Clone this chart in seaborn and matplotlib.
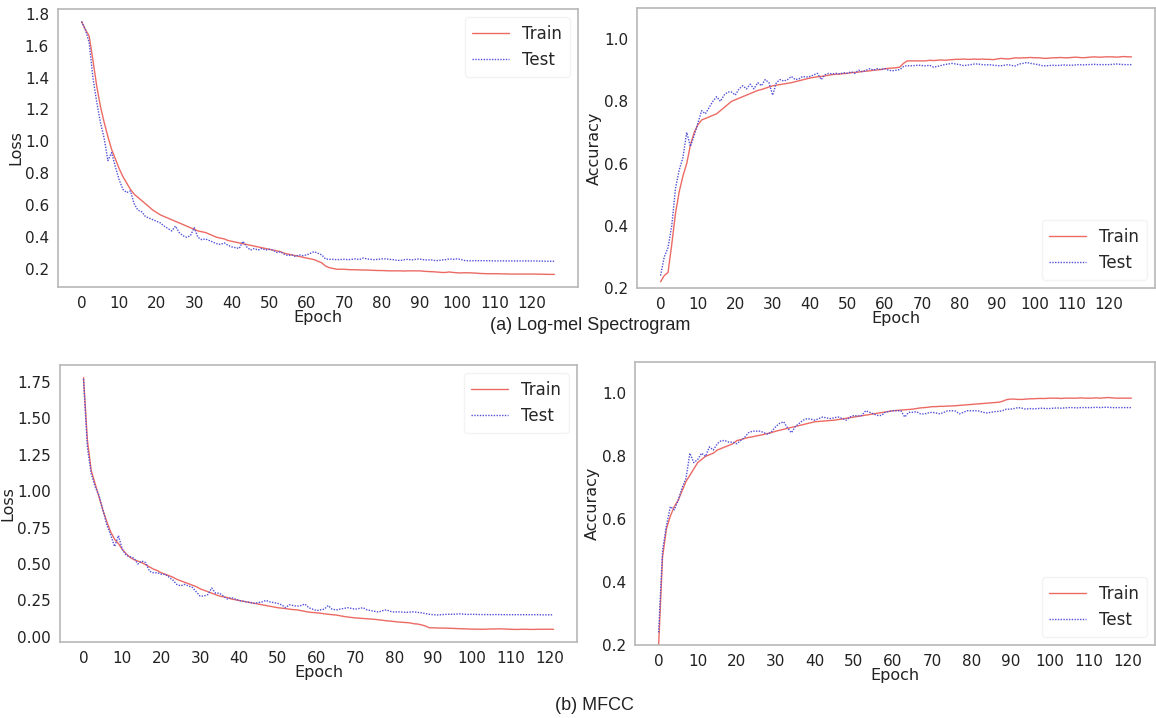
import numpy as np
import pandas as pd
import matplotlib
matplotlib.use("Agg")
import matplotlib.pyplot as plt
import seaborn as sns

# (a) Log-mel spectrogram, epochs 0..126
mel_loss_train = [
    1.75, 1.70, 1.66, 1.51, 1.35, 1.22, 1.12, 1.03, 0.95, 0.89,
    0.83, 0.78, 0.74, 0.70, 0.67, 0.65, 0.63, 0.61, 0.59, 0.57,
    0.555, 0.54, 0.53, 0.52, 0.51, 0.50, 0.49, 0.48, 0.47, 0.46,
    0.45, 0.44, 0.435, 0.43, 0.42, 0.41, 0.40, 0.395, 0.39, 0.38,
    0.375, 0.37, 0.365, 0.36, 0.355, 0.35, 0.345, 0.34, 0.335, 0.33,
    0.325, 0.32, 0.315, 0.31, 0.30, 0.295, 0.29, 0.285, 0.28, 0.275,
    0.27, 0.265, 0.26, 0.25, 0.24, 0.22, 0.21, 0.205, 0.20, 0.20,
    0.20, 0.198, 0.197, 0.197, 0.196, 0.195, 0.195, 0.194, 0.193, 0.192,
    0.192, 0.191, 0.19, 0.19, 0.19, 0.19, 0.189, 0.19, 0.19, 0.19,
    0.19, 0.188, 0.186, 0.185, 0.184, 0.182, 0.18, 0.18, 0.183, 0.18,
    0.178, 0.177, 0.178, 0.178, 0.177, 0.176, 0.174, 0.173, 0.172, 0.172,
    0.172, 0.172, 0.171, 0.171, 0.17, 0.17, 0.17, 0.17, 0.17, 0.17,
    0.17, 0.17, 0.169, 0.169, 0.168, 0.168, 0.168,
]
mel_loss_test = [
    1.75, 1.70, 1.62, 1.40, 1.25, 1.12, 1.02, 0.88, 0.93, 0.84,
    0.76, 0.70, 0.68, 0.69, 0.61, 0.57, 0.56, 0.53, 0.52, 0.51,
    0.50, 0.49, 0.47, 0.455, 0.44, 0.47, 0.43, 0.41, 0.40, 0.41,
    0.46, 0.40, 0.385, 0.39, 0.38, 0.37, 0.36, 0.355, 0.365, 0.35,
    0.34, 0.335, 0.33, 0.375, 0.34, 0.32, 0.33, 0.32, 0.33, 0.32,
    0.325, 0.32, 0.305, 0.31, 0.295, 0.285, 0.29, 0.28, 0.29, 0.285,
    0.29, 0.30, 0.31, 0.30, 0.29, 0.265, 0.262, 0.262, 0.26, 0.261,
    0.262, 0.26, 0.262, 0.265, 0.26, 0.27, 0.265, 0.262, 0.26, 0.262,
    0.265, 0.265, 0.262, 0.26, 0.256, 0.255, 0.26, 0.262, 0.258, 0.262,
    0.265, 0.26, 0.258, 0.26, 0.255, 0.254, 0.258, 0.26, 0.265, 0.262,
    0.265, 0.262, 0.255, 0.253, 0.253, 0.254, 0.253, 0.254, 0.253, 0.253,
    0.252, 0.252, 0.253, 0.252, 0.252, 0.252, 0.252, 0.252, 0.252, 0.252,
    0.252, 0.252, 0.251, 0.251, 0.25, 0.25, 0.25,
]
mel_acc_train = [
    0.22, 0.24, 0.25, 0.34, 0.44, 0.51, 0.56, 0.60, 0.66, 0.70,
    0.725, 0.74, 0.745, 0.75, 0.755, 0.76, 0.77, 0.78, 0.79, 0.80,
    0.805, 0.81, 0.815, 0.82, 0.825, 0.83, 0.835, 0.838, 0.842, 0.846,
    0.85, 0.852, 0.854, 0.856, 0.858, 0.86, 0.863, 0.866, 0.869, 0.872,
    0.875, 0.877, 0.879, 0.88, 0.882, 0.884, 0.886, 0.887, 0.888, 0.889,
    0.89, 0.892, 0.893, 0.894, 0.896, 0.897, 0.898, 0.90, 0.901, 0.902,
    0.905, 0.906, 0.907, 0.908, 0.91, 0.922, 0.93, 0.93, 0.93, 0.93,
    0.93, 0.93, 0.932, 0.931, 0.932, 0.933, 0.932, 0.933, 0.934, 0.935,
    0.935, 0.936, 0.935, 0.935, 0.936, 0.935, 0.936, 0.935, 0.935, 0.934,
    0.936, 0.938, 0.937, 0.936, 0.938, 0.94, 0.939, 0.94, 0.94, 0.941,
    0.94, 0.94, 0.939, 0.938, 0.939, 0.94, 0.94, 0.941, 0.94, 0.94,
    0.941, 0.942, 0.941, 0.94, 0.941, 0.942, 0.943, 0.942, 0.942, 0.943,
    0.943, 0.943, 0.942, 0.943, 0.944, 0.943, 0.943,
]
mel_acc_test = [
    0.24, 0.30, 0.33, 0.40, 0.52, 0.58, 0.62, 0.70, 0.655, 0.69,
    0.73, 0.77, 0.76, 0.78, 0.80, 0.815, 0.80, 0.82, 0.83, 0.83,
    0.82, 0.84, 0.85, 0.84, 0.855, 0.84, 0.86, 0.85, 0.87, 0.86,
    0.82, 0.86, 0.87, 0.865, 0.87, 0.88, 0.87, 0.872, 0.88, 0.878,
    0.88, 0.885, 0.89, 0.87, 0.885, 0.89, 0.888, 0.89, 0.888, 0.892,
    0.89, 0.895, 0.89, 0.90, 0.895, 0.90, 0.905, 0.90, 0.905, 0.902,
    0.905, 0.90, 0.898, 0.90, 0.902, 0.912, 0.915, 0.914, 0.915, 0.916,
    0.915, 0.914, 0.916, 0.91, 0.912, 0.915, 0.918, 0.92, 0.922, 0.92,
    0.918, 0.915, 0.916, 0.918, 0.92, 0.92, 0.918, 0.917, 0.918, 0.916,
    0.915, 0.914, 0.916, 0.918, 0.915, 0.914, 0.92, 0.922, 0.925, 0.922,
    0.92, 0.918, 0.915, 0.914, 0.915, 0.916, 0.915, 0.916, 0.917, 0.916,
    0.916, 0.917, 0.918, 0.917, 0.918, 0.918, 0.919, 0.918, 0.918, 0.918,
    0.918, 0.919, 0.92, 0.919, 0.918, 0.918, 0.918,
]

# (b) MFCC, epochs 0..121
mfcc_loss_train = [
    1.78, 1.35, 1.14, 1.05, 0.96, 0.87, 0.79, 0.72, 0.67, 0.64,
    0.60, 0.57, 0.545, 0.53, 0.52, 0.51, 0.495, 0.48, 0.465, 0.455,
    0.44, 0.43, 0.42, 0.41, 0.395, 0.385, 0.375, 0.365, 0.355, 0.345,
    0.33, 0.32, 0.31, 0.30, 0.29, 0.28, 0.275, 0.27, 0.26, 0.255,
    0.25, 0.245, 0.24, 0.235, 0.23, 0.225, 0.22, 0.215, 0.21, 0.205,
    0.20, 0.197, 0.194, 0.19, 0.187, 0.185, 0.18, 0.175, 0.17, 0.167,
    0.165, 0.162, 0.158, 0.155, 0.152, 0.15, 0.145, 0.14, 0.136, 0.133,
    0.13, 0.128, 0.126, 0.124, 0.122, 0.12, 0.117, 0.114, 0.11, 0.108,
    0.105, 0.102, 0.10, 0.098, 0.096, 0.09, 0.088, 0.082, 0.075, 0.062,
    0.062, 0.061, 0.06, 0.06, 0.059, 0.058, 0.057, 0.056, 0.055, 0.054,
    0.053, 0.053, 0.052, 0.052, 0.053, 0.054, 0.054, 0.055, 0.054, 0.053,
    0.052, 0.051, 0.051, 0.052, 0.052, 0.051, 0.051, 0.052, 0.052, 0.052,
    0.052, 0.052,
]
mfcc_loss_test = [
    1.77, 1.30, 1.12, 1.03, 0.97, 0.87, 0.77, 0.70, 0.62, 0.695,
    0.60, 0.56, 0.55, 0.54, 0.50, 0.52, 0.51, 0.45, 0.44, 0.44,
    0.43, 0.43, 0.41, 0.39, 0.36, 0.35, 0.36, 0.35, 0.34, 0.31,
    0.28, 0.28, 0.29, 0.335, 0.30, 0.30, 0.28, 0.26, 0.27, 0.26,
    0.25, 0.245, 0.24, 0.235, 0.23, 0.235, 0.24, 0.25, 0.24, 0.235,
    0.23, 0.22, 0.20, 0.22, 0.215, 0.21, 0.215, 0.225, 0.20, 0.19,
    0.18, 0.185, 0.19, 0.215, 0.19, 0.185, 0.19, 0.195, 0.20, 0.195,
    0.19, 0.195, 0.20, 0.185, 0.18, 0.175, 0.17, 0.18, 0.185, 0.175,
    0.17, 0.172, 0.17, 0.168, 0.17, 0.172, 0.168, 0.165, 0.16, 0.155,
    0.152, 0.15, 0.152, 0.154, 0.155, 0.155, 0.156, 0.158, 0.155, 0.154,
    0.155, 0.154, 0.153, 0.153, 0.153, 0.152, 0.153, 0.153, 0.152, 0.152,
    0.152, 0.152, 0.152, 0.152, 0.152, 0.152, 0.152, 0.152, 0.151, 0.151,
    0.151, 0.151,
]
mfcc_acc_train = [
    0.20, 0.48, 0.57, 0.61, 0.64, 0.66, 0.69, 0.72, 0.74, 0.76,
    0.78, 0.79, 0.80, 0.805, 0.81, 0.82, 0.825, 0.83, 0.835, 0.84,
    0.85, 0.853, 0.857, 0.86, 0.862, 0.865, 0.867, 0.87, 0.873, 0.876,
    0.88, 0.883, 0.886, 0.889, 0.892, 0.895, 0.898, 0.901, 0.904, 0.907,
    0.91, 0.911, 0.912, 0.913, 0.914, 0.915, 0.917, 0.919, 0.921, 0.923,
    0.925, 0.927, 0.929, 0.931, 0.933, 0.935, 0.937, 0.939, 0.941, 0.943,
    0.945, 0.946, 0.947, 0.948, 0.949, 0.95, 0.952, 0.954, 0.955, 0.956,
    0.958, 0.958, 0.959, 0.959, 0.96, 0.96, 0.961, 0.962, 0.963, 0.964,
    0.965, 0.966, 0.967, 0.968, 0.969, 0.97, 0.971, 0.972, 0.975, 0.98,
    0.982, 0.982, 0.981, 0.981, 0.982, 0.983, 0.983, 0.984, 0.984, 0.984,
    0.985, 0.985, 0.985, 0.984, 0.985, 0.985, 0.985, 0.985, 0.986, 0.985,
    0.985, 0.985, 0.986, 0.985, 0.986, 0.987, 0.986, 0.985, 0.985, 0.985,
    0.985, 0.985,
]
mfcc_acc_test = [
    0.24, 0.50, 0.58, 0.64, 0.63, 0.66, 0.70, 0.73, 0.81, 0.78,
    0.79, 0.81, 0.80, 0.83, 0.82, 0.84, 0.85, 0.85, 0.845, 0.845,
    0.84, 0.85, 0.86, 0.875, 0.88, 0.88, 0.88, 0.875, 0.87, 0.88,
    0.895, 0.905, 0.91, 0.89, 0.875, 0.895, 0.905, 0.915, 0.92, 0.918,
    0.915, 0.92, 0.925, 0.922, 0.92, 0.923, 0.925, 0.92, 0.915, 0.925,
    0.93, 0.928, 0.93, 0.945, 0.94, 0.935, 0.93, 0.93, 0.94, 0.943,
    0.945, 0.945, 0.945, 0.925, 0.94, 0.94, 0.942, 0.935, 0.935, 0.938,
    0.94, 0.938, 0.935, 0.94, 0.945, 0.945, 0.944, 0.935, 0.94, 0.945,
    0.945, 0.945, 0.944, 0.94, 0.938, 0.94, 0.942, 0.943, 0.945, 0.95,
    0.95, 0.952, 0.955, 0.953, 0.95, 0.952, 0.951, 0.952, 0.953, 0.952,
    0.952, 0.953, 0.954, 0.953, 0.954, 0.955, 0.955, 0.954, 0.955, 0.955,
    0.955, 0.955, 0.956, 0.955, 0.956, 0.956, 0.955, 0.955, 0.955, 0.955,
    0.955, 0.955,
]

x_ticks = list(range(0, 121, 10))
train_color = "#ec6a64"
test_color = "#5050d8"

sns.set_style("white")
plt.rcParams["font.family"] = ["DejaVu Sans"]
plt.rcParams["axes.edgecolor"] = "#b8b8b8"
plt.rcParams["xtick.color"] = "#b8b8b8"
plt.rcParams["ytick.color"] = "#b8b8b8"
plt.rcParams["xtick.labelcolor"] = "#222222"
plt.rcParams["ytick.labelcolor"] = "#222222"

W, H = 1156, 718
fig = plt.figure(figsize=(W / 100, H / 100), dpi=100)


def box(left, top, right, bottom):
    return [left / W, 1 - bottom / H, (right - left) / W, (bottom - top) / H]


def panel(rect, train, test, ylabel, legend_loc, ylim=None, yticks=None):
    ax = fig.add_axes(rect)
    df = pd.DataFrame({"Epoch": np.arange(len(train)), "Train": train, "Test": test})
    sns.lineplot(data=df, x="Epoch", y="Train", ax=ax, color=train_color,
                 linewidth=1.0, label="Train")
    sns.lineplot(data=df, x="Epoch", y="Test", ax=ax, color=test_color,
                 linewidth=1.0, linestyle=(0, (1, 1)), label="Test")
    ax.set_xticks(x_ticks)
    if ylim is not None:
        ax.set_ylim(*ylim)
    if yticks is not None:
        ax.set_yticks(yticks)
    ax.tick_params(axis="both", length=3.5, width=0.8, labelsize=11, pad=3)
    ax.set_xlabel("Epoch", fontsize=11.5, color="#222222", labelpad=-1)
    ax.set_ylabel(ylabel, fontsize=11.5, color="#222222", labelpad=1)
    for s in ax.spines.values():
        s.set_linewidth(1.2)
    ax.legend(loc=legend_loc, fontsize=12, frameon=True, framealpha=0.8,
              edgecolor="#f0f0f0", handlelength=2.2, borderpad=0.45)
    return ax


panel(box(58, 9, 578, 287), mel_loss_train, mel_loss_test, "Loss", "upper right",
      yticks=np.arange(0.2, 1.81, 0.2))
panel(box(637, 8, 1155, 288), mel_acc_train, mel_acc_test, "Accuracy", "lower right",
      ylim=(0.2, 1.1), yticks=[0.2, 0.4, 0.6, 0.8, 1.0])
panel(box(60, 365, 577, 642), mfcc_loss_train, mfcc_loss_test, "Loss", "upper right",
      yticks=np.arange(0.0, 1.76, 0.25))
panel(box(635, 362, 1155, 645), mfcc_acc_train, mfcc_acc_test, "Accuracy", "lower right",
      ylim=(0.2, 1.1), yticks=[0.2, 0.4, 0.6, 0.8, 1.0])

fig.text(590 / W, 1 - 325 / H, "(a) Log-mel Spectrogram", ha="center", va="center",
         fontsize=13, family=["Liberation Sans", "DejaVu Sans"], color="#222222")
fig.text(594 / W, 1 - 705 / H, "(b) MFCC", ha="center", va="center",
         fontsize=13, family=["Liberation Sans", "DejaVu Sans"], color="#222222")

fig.savefig("out.png", dpi=100, facecolor="white")
